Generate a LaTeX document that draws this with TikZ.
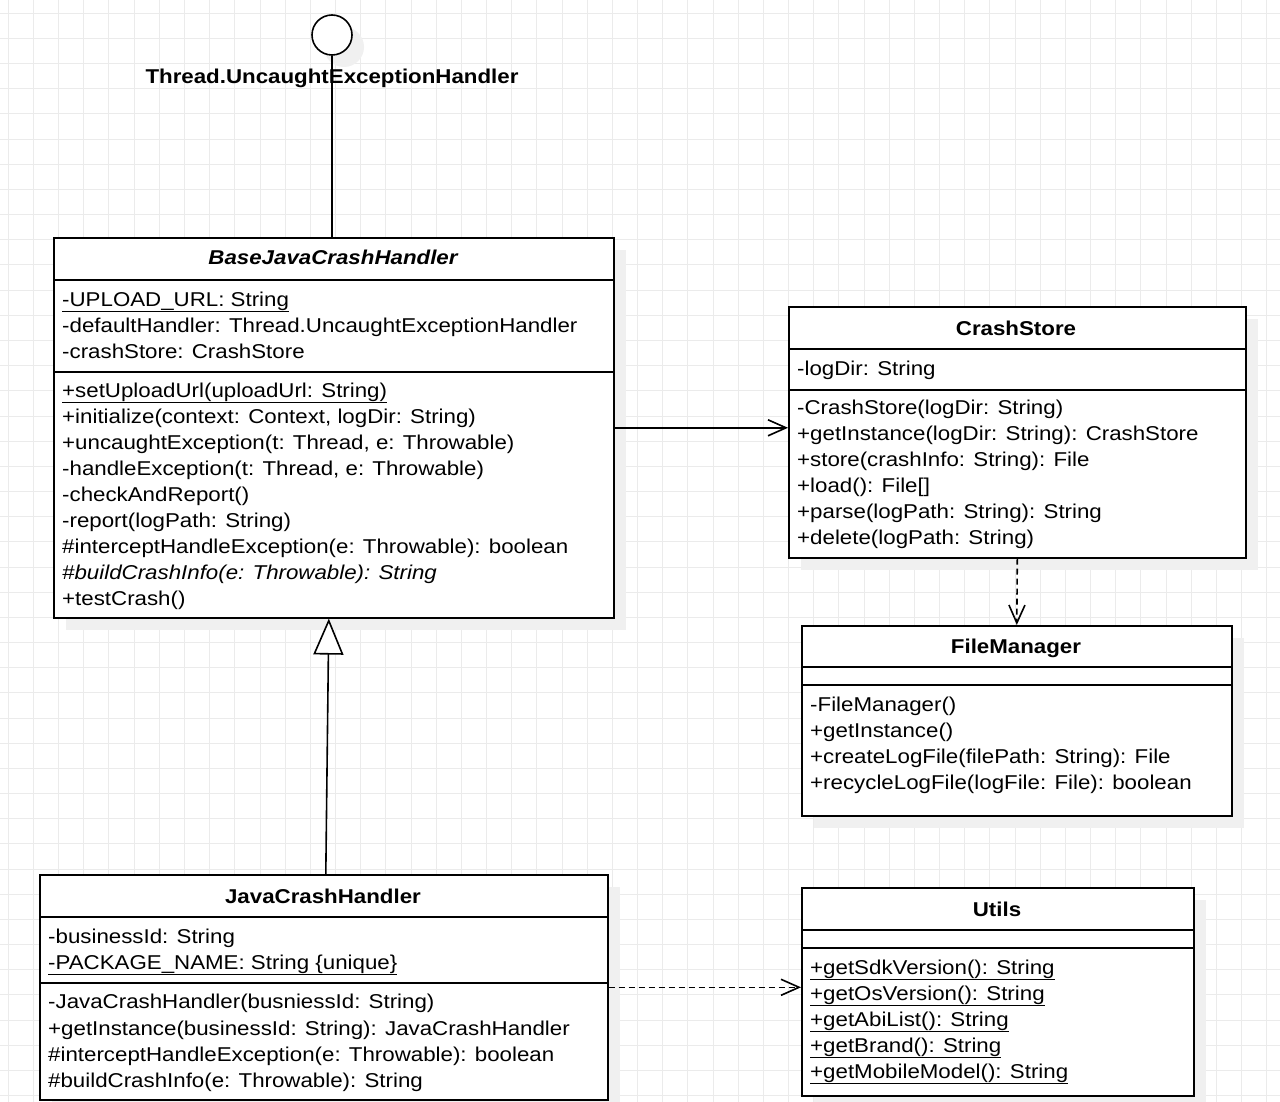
\documentclass[tikz,border=0pt]{standalone}
\usepackage{fontspec}
\setmainfont{Liberation Sans}[FakeStretch=1.115]
\usetikzlibrary{arrows.meta,positioning,shadows}

\begin{document}
\begin{tikzpicture}[x=1pt,y=-1pt,
    gridline/.style={draw=black!8,line width=1pt},
    classbox/.style={draw,line width=1.6pt,fill=white,anchor=north west,inner sep=0pt,
      drop shadow={shadow xshift=12pt,shadow yshift=-12pt,fill=black!6,opacity=1}},
    member/.style={anchor=base west,inner sep=0pt,font=\fontsize{20}{24}\selectfont},
    classname/.style={anchor=base,inner sep=0pt,font=\fontsize{20}{24}\selectfont\bfseries},
    link/.style={line width=1.6pt},
    navarrow/.style={link,-{Straight Barb[length=18pt,width=16pt]}},
    dependson/.style={navarrow,dash pattern=on 6pt off 4pt},
    extends/.style={link,-{Triangle[length=36pt,width=30pt,fill=white]}}]
  \useasboundingbox (0,0) rectangle (1280,1102);
  % Draw background grid
  \fill[white] (0,0) rectangle (1280,1102);
  \foreach \i in {0,...,50}
    \draw[gridline] (8.3+25.17*\i,0) -- ++(0,1102);
  \foreach \j in {0,...,43}
    \draw[gridline] (0,13.3+25.17*\j) -- ++(1280,0);

  % Interface lollipop
  \node[classbox,anchor=center,circle,minimum size=40pt] (iface) at (332,35) {};
  \node[classname] (ifacename) at (332,84) {Thread.UncaughtExceptionHandler};

  % BaseJavaCrashHandler
  \node[classbox,minimum width=560pt,minimum height=380pt] (base) at (53,237) {};
  \draw[line width=1.6pt] ([yshift=-43pt]base.north west) -- ([yshift=-43pt]base.north east);
  \draw[line width=1.6pt] ([yshift=-135pt]base.north west) -- ([yshift=-135pt]base.north east);
  \node[classname,font=\fontsize{20}{24}\selectfont\bfseries\itshape] (basename) at (333,265) {BaseJavaCrashHandler};
  \node[member] (b1) at (62,306) {\underline{-UPLOAD\_URL: String}};
  \node[member] (b2) at (62,332) {-defaultHandler: Thread.UncaughtExceptionHandler};
  \node[member] (b3) at (62,358) {-crashStore: CrashStore};
  \node[member] (b4) at (62,397) {\underline{+setUploadUrl(uploadUrl: String)}};
  \node[member] (b5) at (62,423) {+initialize(context: Context, logDir: String)};
  \node[member] (b6) at (62,449) {+uncaughtException(t: Thread, e: Throwable)};
  \node[member] (b7) at (62,475) {-handleException(t: Thread, e: Throwable)};
  \node[member] (b8) at (62,501) {-checkAndReport()};
  \node[member] (b9) at (62,527) {-report(logPath: String)};
  \node[member] (b10) at (62,553) {\#interceptHandleException(e: Throwable): boolean};
  \node[member] (b11) at (62,579) {\textit{\#buildCrashInfo(e: Throwable): String}};
  \node[member] (b12) at (62,605) {+testCrash()};

  % CrashStore
  \node[classbox,minimum width=457pt,minimum height=251pt] (store) at (788,306) {};
  \draw[line width=1.6pt] ([yshift=-43pt]store.north west) -- ([yshift=-43pt]store.north east);
  \draw[line width=1.6pt] ([yshift=-84pt]store.north west) -- ([yshift=-84pt]store.north east);
  \node[classname] (storename) at (1016,335) {CrashStore};
  \node[member] (s1) at (797,375) {-logDir: String};
  \node[member] (s2) at (797,414) {-CrashStore(logDir: String)};
  \node[member] (s3) at (797,440) {+getInstance(logDir: String): CrashStore};
  \node[member] (s4) at (797,466) {+store(crashInfo: String): File};
  \node[member] (s5) at (797,492) {+load(): File[]};
  \node[member] (s6) at (797,518) {+parse(logPath: String): String};
  \node[member] (s7) at (797,544) {+delete(logPath: String)};

  % FileManager
  \node[classbox,minimum width=430pt,minimum height=190pt] (fm) at (801,625) {};
  \draw[line width=1.6pt] ([yshift=-42pt]fm.north west) -- ([yshift=-42pt]fm.north east);
  \draw[line width=1.6pt] ([yshift=-60pt]fm.north west) -- ([yshift=-60pt]fm.north east);
  \node[classname] (fmname) at (1016,653) {FileManager};
  \node[member] (f1) at (810,711) {-FileManager()};
  \node[member] (f2) at (810,737) {+getInstance()};
  \node[member] (f3) at (810,763) {+createLogFile(filePath: String): File};
  \node[member] (f4) at (810,789) {+recycleLogFile(logFile: File): boolean};

  % JavaCrashHandler
  \node[classbox,minimum width=568pt,minimum height=225pt] (jch) at (39,874) {};
  \draw[line width=1.6pt] ([yshift=-43pt]jch.north west) -- ([yshift=-43pt]jch.north east);
  \draw[line width=1.6pt] ([yshift=-109pt]jch.north west) -- ([yshift=-109pt]jch.north east);
  \node[classname] (jchname) at (323,903) {JavaCrashHandler};
  \node[member] (j1) at (48,943) {-businessId: String};
  \node[member] (j2) at (48,969) {\underline{-PACKAGE\_NAME: String \{unique\}}};
  \node[member] (j3) at (48,1008) {-JavaCrashHandler(busniessId: String)};
  \node[member] (j4) at (48,1035) {+getInstance(businessId: String): JavaCrashHandler};
  \node[member] (j5) at (48,1061) {\#interceptHandleException(e: Throwable): boolean};
  \node[member] (j6) at (48,1087) {\#buildCrashInfo(e: Throwable): String};

  % Utils
  \node[classbox,minimum width=392pt,minimum height=208pt] (utils) at (801,887) {};
  \draw[line width=1.6pt] ([yshift=-43pt]utils.north west) -- ([yshift=-43pt]utils.north east);
  \draw[line width=1.6pt] ([yshift=-61pt]utils.north west) -- ([yshift=-61pt]utils.north east);
  \node[classname] (utilsname) at (997,916) {Utils};
  \node[member] (u1) at (810,974) {\underline{+getSdkVersion(): String}};
  \node[member] (u2) at (810,1000) {\underline{+getOsVersion(): String}};
  \node[member] (u3) at (810,1026) {\underline{+getAbiList(): String}};
  \node[member] (u4) at (810,1052) {\underline{+getBrand(): String}};
  \node[member] (u5) at (810,1078) {\underline{+getMobileModel(): String}};

  % Draw relations
  \draw[link] (iface.south) -- (iface.south |- base.north);
  \draw[navarrow] (base.east) -- (base.east -| store.west);
  \draw[dependson] (store.south) -- (fm.north);
  \draw[extends] ([xshift=2pt]jch.north) -- ([xshift=-5pt]base.south);
  \draw[dependson] (jch.east) -- (jch.east -| utils.west);
\end{tikzpicture}
\end{document}
